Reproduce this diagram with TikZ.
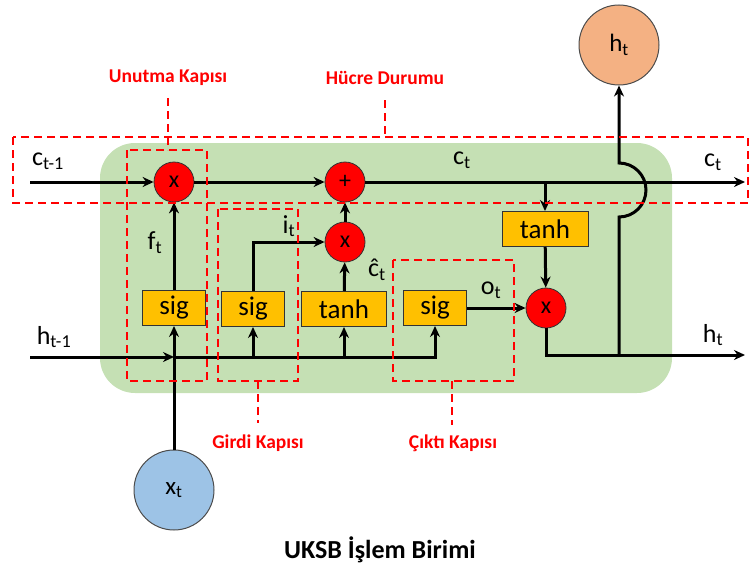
\documentclass[tikz,border=0pt]{standalone}
\usepackage{fontspec}
\setmainfont{Carlito}
\usepackage{xcolor}
\usetikzlibrary{arrows.meta,positioning}

\definecolor{cellgreen}{HTML}{C5E0B4}
\definecolor{gateyellow}{HTML}{FFC000}
\definecolor{inblue}{HTML}{9DC3E6}
\definecolor{outorange}{HTML}{F4B183}

\begin{document}
\begin{tikzpicture}[
    x=1pt,
    y=-1pt,
    >={Stealth[length=11pt,width=10pt]},
    line width=3pt,
    opnode/.style={
        circle,
        draw=black!80,
        line width=0.8pt,
        fill=red,
        minimum size=40pt,
        inner sep=0pt,
        font=\fontsize{24}{26}\selectfont
    },
    gatefn/.style={
        rectangle,
        draw=black!80,
        line width=1pt,
        fill=gateyellow,
        minimum width=63pt,
        minimum height=35pt,
        inner sep=0pt,
        font=\fontsize{27}{29}\selectfont
    },
    ionode/.style={
        circle,
        draw=black!70,
        line width=1pt,
        minimum size=80pt,
        inner sep=0pt,
        font=\fontsize{25}{27}\selectfont
    },
    gatebox/.style={
        draw=red,
        dash pattern=on 8pt off 5pt,
        line width=2.2pt
    },
    gatename/.style={
        text=red,
        font=\bfseries\fontsize{19.5}{21}\selectfont
    },
    varlabel/.style={
        font=\fontsize{26}{28}\selectfont
    }
]

\useasboundingbox (0,0) rectangle (750,570);

% ============================================================
% CELL BODY
% ============================================================

\fill[cellgreen, rounded corners=35pt]
    (100,143) rectangle (672,393);

% ============================================================
% OPERATIONS
% ============================================================

\node[opnode] (fmul) at (174,182) {x};
\node[opnode] (add)  at (345,182) {+};
\node[opnode] (imul) at (345,242) {x};
\node[opnode] (omul) at (546,308) {x};

\node[gatefn] (sigf)  at (174,308) {sig};
\node[gatefn] (sigi)  at (253,309) {sig};
\node[gatefn, minimum width=85pt] (tanhc) at (344,309) {tanh};
\node[gatefn] (sigo)  at (435,308) {sig};
\node[gatefn, minimum width=86pt] (tanho) at (545,229) {tanh};

\node[ionode, fill=inblue]    (xt)   at (174,490) {x\textsubscript{t}};
\node[ionode, fill=outorange] (htop) at (619,45)  {h\textsubscript{t}};

% Free ends and corners
\coordinate (cin)    at (30,182);
\coordinate (cout)   at (745,182);
\coordinate (ctap)   at (545,182);
\coordinate (hin)    at (30,357);
\coordinate (hjoin)  at (174,357);
\coordinate (hout)   at (745,355);
\coordinate (hup)    at (619,355);
\coordinate (arcbot) at (619,217);

% ============================================================
% CELL STATE LINE
% ============================================================

\draw[->] (cin) -- (fmul);
\draw[->] (fmul) -- (add);
\draw[->] (add) -- (cout);

\draw[->] (ctap) -- (tanho);
\draw[->] (tanho) -- (omul);

% Output with hop over the cell line
\draw[->] (omul) |- (hout);
\draw[->]
    (hup) -- (arcbot)
    arc[start angle=90, end angle=-90, radius=27]
    -- (htop);

% ============================================================
% HIDDEN STATE AND INPUT
% ============================================================

\draw[->] (hin) -- (hjoin);
\draw[->] (xt) -- (sigf);
\draw[->] (hjoin) -| (sigo);
\draw[->] (sigi |- hjoin) -- (sigi);
\draw[->] (tanhc |- hjoin) -- (tanhc);

% Gate outputs
\draw[->] (sigf) -- (fmul);
\draw[->] (sigi) |- (imul);
\draw[->] (tanhc) -- (imul);
\draw[->] (imul) -- (add);
\draw[->] (sigo) -- (omul);

% ============================================================
% LABELS
% ============================================================

\node[varlabel] (lcin)  at (48,161)  {c\textsubscript{t-1}};
\node[varlabel] (lct)   at (462,160) {c\textsubscript{t}};
\node[varlabel] (lcout) at (713,162) {c\textsubscript{t}};
\node[varlabel] (lhin)  at (54,337)  {h\textsubscript{t-1}};
\node[varlabel] (lhout) at (713,335) {h\textsubscript{t}};
\node[varlabel] (lft)   at (155,243) {f\textsubscript{t}};
\node[varlabel] (lit)   at (289,226) {i\textsubscript{t}};
\node[varlabel] (lct2)  at (377,270) {ĉ\textsubscript{t}};
\node[varlabel] (lot)   at (491,290) {o\textsubscript{t}};

% ============================================================
% GATE FRAMES
% ============================================================

\draw[gatebox] (13,137) rectangle (748,203);
\draw[gatebox] (127,150) rectangle (207,381);
\draw[gatebox] (218,209) rectangle (298,381);
\draw[gatebox] (393,260) rectangle (514,381);

\node[gatename] (nforget) at (168,78)  {Unutma Kapısı};
\node[gatename] (nstate)  at (385,78)  {Hücre Durumu};
\node[gatename] (ninput)  at (258,443) {Girdi Kapısı};
\node[gatename] (noutput) at (453,443) {Çıktı Kapısı};

\draw[gatebox] (nforget.south |- 0,98)  -- (168,150);
\draw[gatebox] (nstate.south |- 0,100)  -- (385,137);
\draw[gatebox] (258,381) -- (258,423);
\draw[gatebox] (452,381) -- (452,425);

% Title
\node[font=\bfseries\fontsize{26}{28}\selectfont]
    (title) at (380,550)
    {UKSB İşlem Birimi};

\end{tikzpicture}
\end{document}
